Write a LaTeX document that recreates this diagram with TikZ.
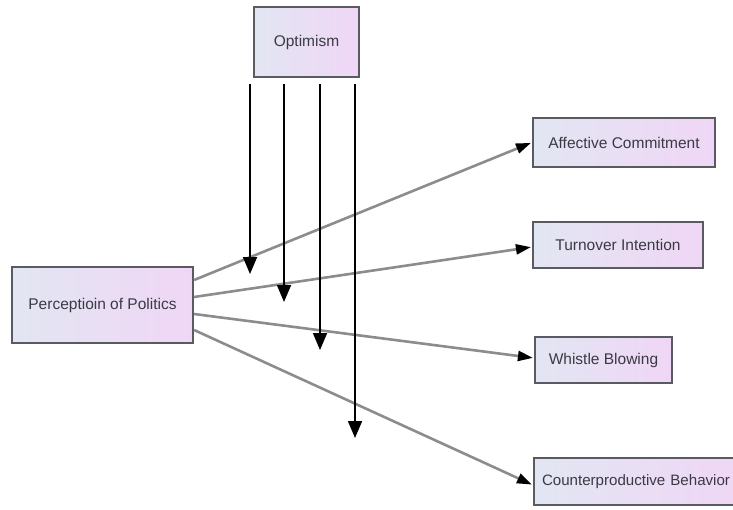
\documentclass[tikz,border=0pt]{standalone}
\usepackage{fontspec}
\setmainfont{Liberation Sans}
\usetikzlibrary{arrows.meta,calc}
\definecolor{boxedge}{HTML}{5A5A62}
\definecolor{boxleft}{HTML}{E2E6F2}
\definecolor{boxright}{HTML}{F0D6F6}
\definecolor{linkgray}{HTML}{8C8C8C}
\definecolor{labelgray}{HTML}{3A3A44}
\tikzset{
  varbox/.style={draw=boxedge, line width=2.2pt, left color=boxleft, right color=boxright,
    text=labelgray, font=\fontsize{15.5}{18}\selectfont, inner sep=0pt, align=center},
  effect/.style={draw=linkgray, line width=2.6pt,
    -{Triangle[width=10pt,length=15pt,color=black]}, shorten >=1pt},
  moderate/.style={draw=black, line width=1.8pt, -{Triangle[width=14pt,length=17pt]}}
}
\begin{document}
\begin{tikzpicture}[x=1pt,y=-1pt]
  \useasboundingbox (0,0) rectangle (733,509);
  \clip (0,0) rectangle (733,509);

  % boxes
  \node[varbox, minimum width=105pt, minimum height=70pt] (opt) at (306.5,42) {Optimism};
  \node[varbox, minimum width=181pt, minimum height=76pt] (pop) at (102.5,305) {Perceptioin of Politics};
  \node[varbox, minimum width=182pt, minimum height=49pt] (ac) at (624,142.5) {Affective Commitment};
  \node[varbox, minimum width=170pt, minimum height=46pt] (ti) at (618,245) {Turnover Intention};
  \node[varbox, minimum width=137pt, minimum height=46pt] (wb) at (603.5,360) {Whistle Blowing};
  \node[varbox, minimum width=211pt, minimum height=47pt, text width=195pt, align=left,
        font=\fontsize{15.1}{18}\selectfont] (cb) at (639.5,481.5) {Counterproductive Behavior};

  % direct effects
  \draw[effect] ([yshift=25pt]pop.east) -- ([yshift=0pt]ac.west);
  \draw[effect] ([yshift=8pt]pop.east) -- ([yshift=-2pt]ti.west);
  \draw[effect] ([yshift=-9pt]pop.east) -- ([yshift=2pt]wb.west);
  \draw[effect] ([yshift=-25pt]pop.east) -- ([yshift=-3.5pt]cb.west);

  % moderating arrows from optimism
  \coordinate (m1) at (250,274);
  \coordinate (m2) at (284,302);
  \coordinate (m3) at (320,350);
  \coordinate (m4) at (355,438);
  \draw[moderate] (m1 |- opt.south) ++(0,6) -- (m1);
  \draw[moderate] (m2 |- opt.south) ++(0,6) -- (m2);
  \draw[moderate] (m3 |- opt.south) ++(0,6) -- (m3);
  \draw[moderate] (m4 |- opt.south) ++(0,6) -- (m4);
\end{tikzpicture}
\end{document}
